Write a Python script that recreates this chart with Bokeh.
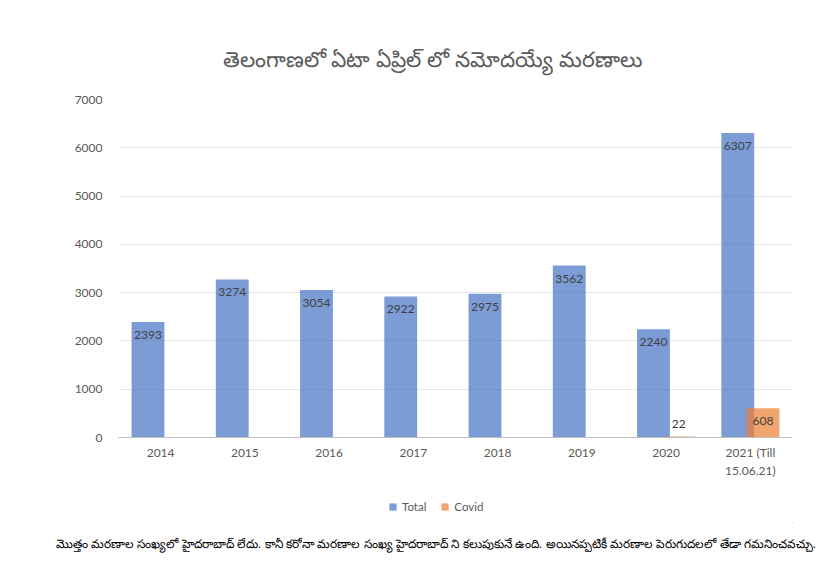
from bokeh.embed import file_html
from bokeh.resources import INLINE
from bokeh.core.properties import value
from bokeh.layouts import column
from bokeh.models import ColumnDataSource, Legend, LegendItem, LabelSet, Title, Range1d
from bokeh.plotting import figure
from bokeh.transform import dodge

# data
years = ["2014", "2015", "2016", "2017", "2018", "2019", "2020", "2021 (Till\n15.06.21)"]
total = [2393, 3274, 3054, 2922, 2975, 3562, 2240, 6307]
covid_years = ["2020", "2021 (Till\n15.06.21)"]
covid = [22, 608]

title_text = "తెలంగాణలో ఏటా ఏప్రిల్ లో నమోదయ్యే మరణాలు"
note_text = ("మొత్తం మరణాల సంఖ్యలో హైదరాబాద్ లేదు. కానీ కరోనా మరణాల సంఖ్య హైదరాబాద్ ని కలుపుకునే ఉంది. "
             "అయినప్పటికీ మరణాల పెరుగుదలలో తేడా గమనించవచ్చు.")

FONT = "Lato"
GRAY = "#595959"
BLUE, ORANGE = "#4472c4", "#ed7d31"

src_t = ColumnDataSource(dict(year=years, v=total, lbl=[str(v) for v in total]))
src_c = ColumnDataSource(dict(year=covid_years, v=covid, lbl=[str(v) for v in covid],
                              base=["top" if v > 300 else "bottom" for v in covid],
                              off=[-9 if v > 300 else 8 for v in covid]))

p = figure(x_range=years, y_range=(0, 7000), frame_width=674, frame_height=338,
           min_border_left=118, min_border_right=30, min_border_top=99, min_border_bottom=53,
           toolbar_location=None, output_backend="svg")
p.outline_line_color = None

bt = p.vbar(x=dodge("year", -0.15, range=p.x_range), top="v", width=0.39, source=src_t,
            fill_color=BLUE, fill_alpha=0.7, line_color=None)
bc = p.vbar(x=dodge("year", 0.15, range=p.x_range), top="v", width=0.39, source=src_c,
            fill_color=ORANGE, fill_alpha=0.7, line_color=None)

p.add_layout(LabelSet(x=dodge("year", -0.15, range=p.x_range), y="v", text="lbl", source=src_t,
                      y_offset=-9, text_align="center", text_baseline="top",
                      text_font=value(FONT), text_font_size="12px", text_color="#404040"))
p.add_layout(LabelSet(x=dodge("year", 0.15, range=p.x_range), y="v", text="lbl", source=src_c,
                      y_offset="off", text_align="center", text_baseline="base",
                      text_font=value(FONT), text_font_size="12px", text_color="#404040"))

p.yaxis.ticker = list(range(0, 7001, 1000))
p.yaxis.axis_line_color = None
p.yaxis.major_tick_line_color = None
p.yaxis.minor_tick_line_color = None
p.yaxis.major_label_standoff = 10
p.yaxis.major_label_text_font = FONT
p.yaxis.major_label_text_font_size = "12px"
p.yaxis.major_label_text_color = GRAY

p.xaxis.axis_line_color = "#bfbfbf"
p.xaxis.major_tick_line_color = None
p.xaxis.minor_tick_line_color = None
p.xaxis.major_label_standoff = 1
p.xaxis.major_label_text_font = FONT
p.xaxis.major_label_text_font_size = "12px"
p.xaxis.major_label_text_color = GRAY

p.xgrid.grid_line_color = None
p.ygrid.grid_line_color = "#e6e6e6"

p.add_layout(Title(text=title_text, align="left", offset=104, standoff=56,
                   text_font_size="21.5px", text_font_style="normal", text_color=GRAY), "above")

# strip below the chart: legend and note (its bars sit far outside the strip)
q = figure(x_range=p.x_range, y_range=Range1d(10000, 20000), frame_width=674, frame_height=32,
           min_border_left=118, min_border_right=30, min_border_top=0, min_border_bottom=0,
           x_axis_location=None, y_axis_location=None,
           toolbar_location=None, output_backend="svg")
q.outline_line_color = None
q.grid.grid_line_color = None
lt = q.vbar(x=dodge("year", 100, range=q.x_range), top="v", width=0.39, source=src_t,
            fill_color=BLUE, fill_alpha=0.7, line_color=None)
lc = q.vbar(x=dodge("year", 100, range=q.x_range), top="v", width=0.39, source=src_c,
            fill_color=ORANGE, fill_alpha=0.7, line_color=None)

legend = Legend(items=[LegendItem(label="Total", renderers=[lt]),
                       LegendItem(label="Covid", renderers=[lc])],
                orientation="horizontal", location=(270, 9), border_line_color=None,
                background_fill_alpha=0,
                label_text_font=FONT, label_text_font_size="11.5px", label_text_color=GRAY,
                glyph_width=9, glyph_height=9, spacing=14, margin=0, padding=4)
q.add_layout(legend)

q.add_layout(Title(text=note_text, align="left", offset=-63, standoff=25,
                   text_font_size="12px", text_font_style="normal", text_color="#000000"), "below")

open("out.html", "w").write(file_html(column(p, q), INLINE))
